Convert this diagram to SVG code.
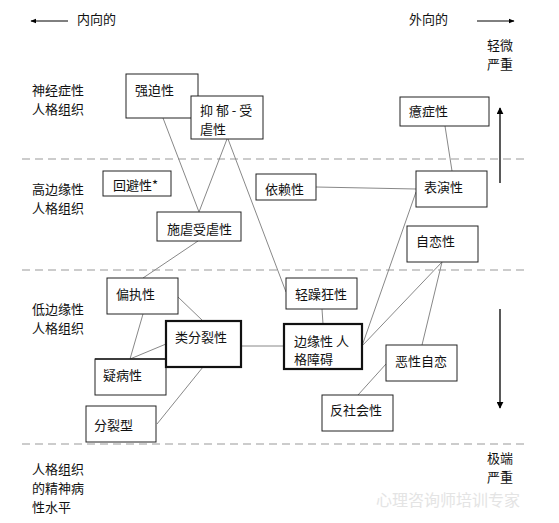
<svg xmlns="http://www.w3.org/2000/svg" width="559" height="523" viewBox="0 0 559 523">
<defs>
<marker id="ah" viewBox="0 0 10 10" refX="9" refY="5" markerWidth="7" markerHeight="7" markerUnits="userSpaceOnUse" orient="auto">
<path d="M0,0 L10,5 L0,10 z" fill="#000"/>
</marker>
<marker id="ahs" viewBox="0 0 10 10" refX="9" refY="5" markerWidth="6" markerHeight="6" markerUnits="userSpaceOnUse" orient="auto">
<path d="M0,1 L10,5 L0,9 z" fill="#000"/>
</marker>
</defs>
<style>
text{font-family:"Noto Sans CJK SC","Noto Sans",sans-serif;font-size:13px;fill:#111;dominant-baseline:central}
.box{fill:#fff;stroke:#222;stroke-width:1}
.thick{fill:#fff;stroke:#111;stroke-width:2.2}
.con{stroke:#888;stroke-width:1;fill:none}
.dash{stroke:#999;stroke-width:1;stroke-dasharray:8,5;fill:none}
.wm{fill:#e4e4e4;font-size:16px}
</style>
<rect width="559" height="523" fill="#fff"/>

<g id="levels">
<line class="dash" x1="22" y1="159" x2="524" y2="159"/>
<line class="dash" x1="22" y1="270" x2="524" y2="270"/>
<line class="dash" x1="22" y1="444" x2="524" y2="444"/>
</g>

<g id="axis-labels">
<line x1="68" y1="21" x2="31" y2="21" stroke="#000" stroke-width="1" marker-end="url(#ahs)"/>
<text x="77" y="18">内向的</text>
<text x="409" y="18">外向的</text>
<line x1="477" y1="21" x2="514" y2="21" stroke="#000" stroke-width="1" marker-end="url(#ahs)"/>
<text x="487" y="44">轻微</text>
<text x="487" y="63">严重</text>
<line x1="500" y1="183" x2="500" y2="108" stroke="#000" stroke-width="1.3" marker-end="url(#ah)"/>
<line x1="500" y1="309" x2="500" y2="408" stroke="#000" stroke-width="1.3" marker-end="url(#ah)"/>
<text x="487" y="457">极端</text>
<text x="487" y="476">严重</text>
<text x="32" y="89">神经症性</text>
<text x="32" y="108">人格组织</text>
<text x="32" y="188">高边缘性</text>
<text x="32" y="207">人格组织</text>
<text x="32" y="308">低边缘性</text>
<text x="32" y="327">人格组织</text>
<text x="32" y="468">人格组织</text>
<text x="32" y="487">的精神病</text>
<text x="32" y="506">性水平</text>
<text class="wm" x="376" y="499">心理咨询师培训专家</text>
</g>

<g id="connectors">
<line class="con" x1="163" y1="118" x2="199" y2="212"/>
<line class="con" x1="227" y1="139" x2="199" y2="212"/>
<line class="con" x1="228" y1="139" x2="286" y2="292"/>
<line class="con" x1="198" y1="241" x2="143" y2="278"/>
<line class="con" x1="316" y1="187" x2="416" y2="189"/>
<line class="con" x1="445" y1="126" x2="452" y2="171"/>
<line class="con" x1="416" y1="192" x2="362" y2="346"/>
<line class="con" x1="442" y1="262" x2="362" y2="346"/>
<line class="con" x1="442" y1="262" x2="422" y2="345"/>
<line class="con" x1="322" y1="309" x2="323" y2="324"/>
<line class="con" x1="241" y1="346" x2="284" y2="346" stroke="#444"/>
<line class="con" x1="386" y1="364" x2="358" y2="395"/>
<line class="con" x1="178" y1="297" x2="203" y2="321"/>
<line class="con" x1="143" y1="314" x2="130" y2="359"/>
<line class="con" x1="130" y1="359" x2="166" y2="344"/>
<line class="con" x1="203" y1="367" x2="157" y2="424"/>
</g>

<g id="n-qiangpo"><rect class="box" x="126" y="74" width="72" height="44"/><text x="135" y="89">强迫性</text></g>
<g id="n-yiyu"><rect class="box" x="191" y="96" width="72" height="43"/><text x="200" y="109">抑 郁 - 受</text><text x="200" y="128">虐性</text></g>
<g id="n-huibi"><rect class="box" x="103" y="171" width="68" height="25"/><text x="113" y="184">回避性*</text></g>
<g id="n-shinue"><rect class="box" x="157" y="212" width="84" height="29"/><text x="167" y="228">施虐受虐性</text></g>
<g id="n-yilai"><rect class="box" x="256" y="174" width="60" height="26"/><text x="265" y="188">依赖性</text></g>
<g id="n-yizheng"><rect class="box" x="400" y="97" width="89" height="29"/><text x="409" y="110">癔症性</text></g>
<g id="n-biaoyan"><rect class="box" x="416" y="171" width="71" height="36"/><text x="424" y="186">表演性</text></g>
<g id="n-zilian"><rect class="box" x="407" y="226" width="71" height="36"/><text x="416" y="240">自恋性</text></g>
<g id="n-pianzhi"><rect class="box" x="107" y="278" width="71" height="36"/><text x="116" y="293">偏执性</text></g>
<g id="n-yibing"><rect class="box" x="95" y="359" width="71" height="36"/><line x1="95" y1="359" x2="166" y2="359" stroke="#222" stroke-width="1.6"/><text x="103" y="374">疑病性</text></g>
<g id="n-leifenlie"><rect class="thick" x="166" y="321" width="75" height="46"/><text x="175" y="336">类分裂性</text></g>
<g id="n-fenlie"><rect class="box" x="86" y="406" width="70" height="36"/><text x="94" y="424">分裂型</text></g>
<g id="n-qingzao"><rect class="box" x="286" y="278" width="71" height="31"/><text x="295" y="293">轻躁狂性</text></g>
<g id="n-bianyuan"><rect class="thick" x="284" y="324" width="78" height="45"/><text x="294" y="340">边缘性 人</text><text x="294" y="358">格障碍</text></g>
<g id="n-exing"><rect class="box" x="386" y="345" width="71" height="36"/><text x="395" y="360">恶性自恋</text></g>
<g id="n-fanshehui"><rect class="box" x="322" y="395" width="71" height="36"/><text x="330" y="409">反社会性</text></g>
</svg>
